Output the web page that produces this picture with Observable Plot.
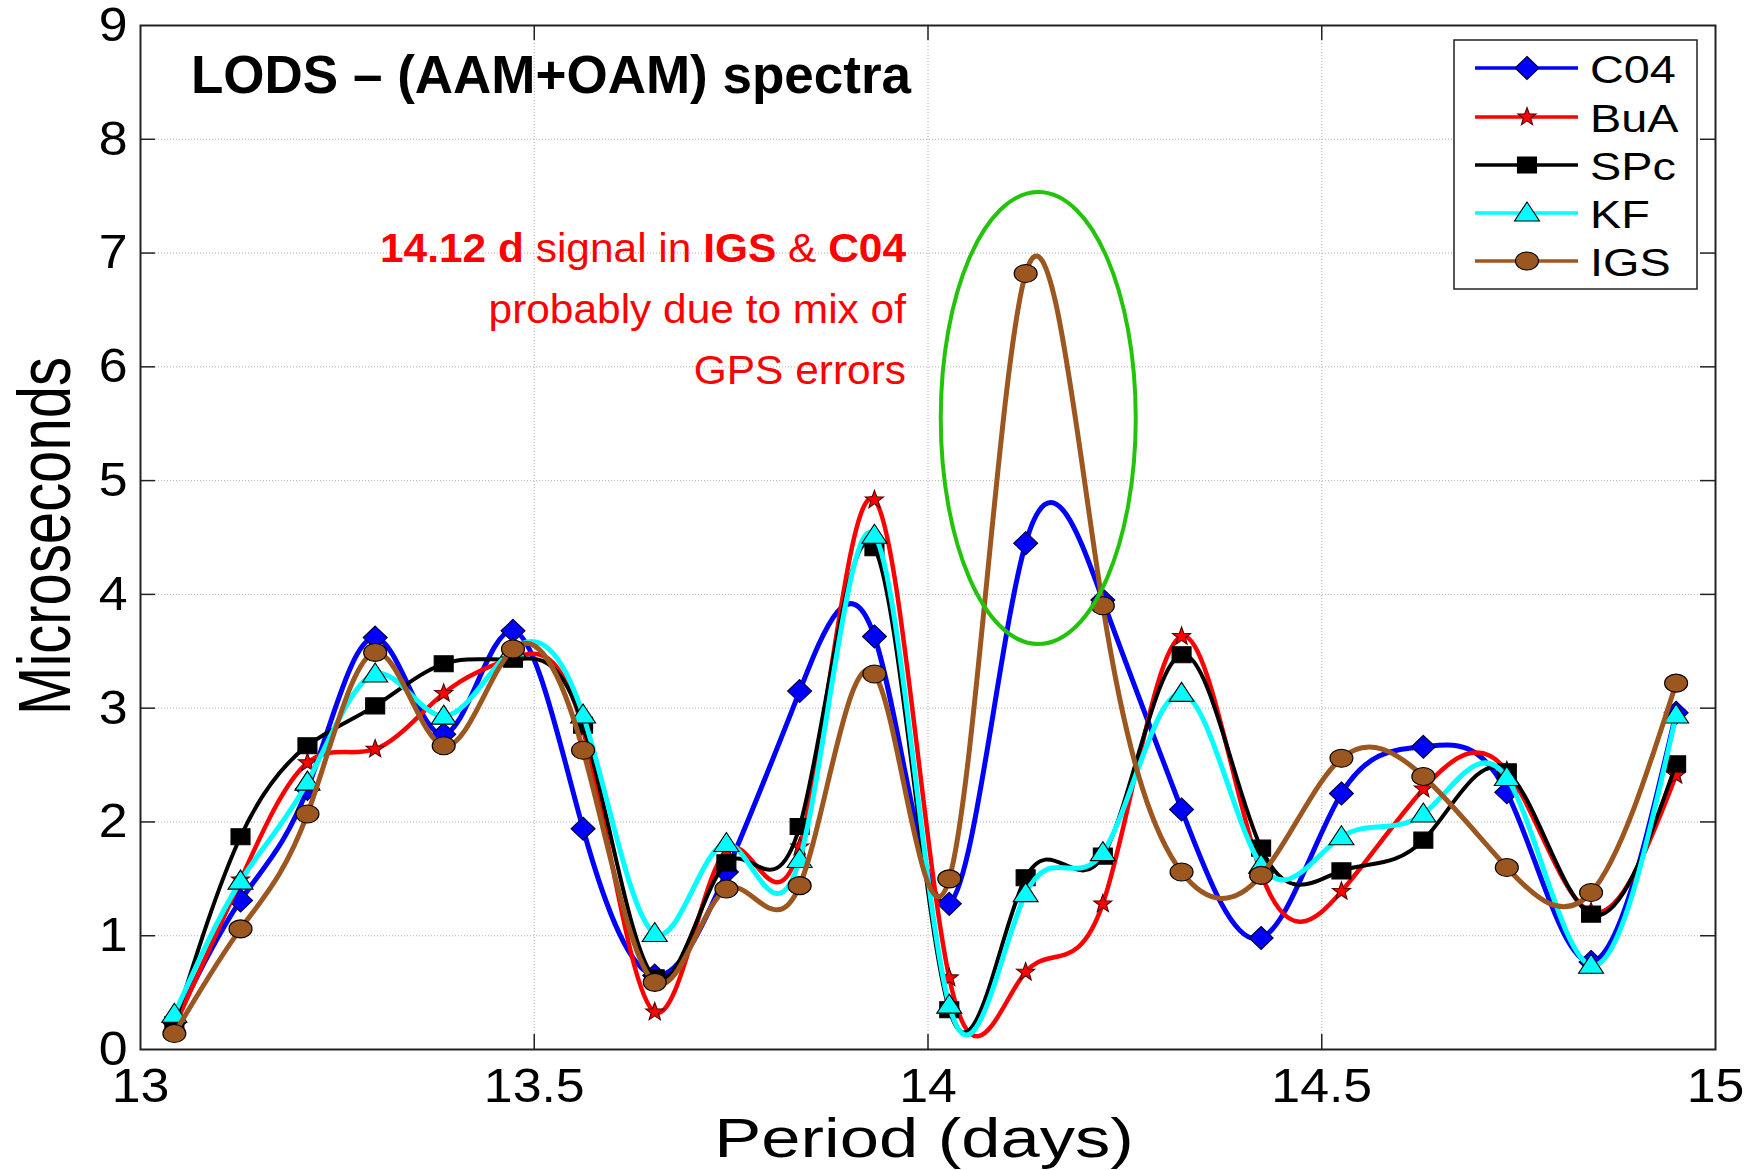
<!DOCTYPE html>
<html><head><meta charset="utf-8">
<script src="https://cdn.jsdelivr.net/npm/d3@7"></script>
<script src="https://cdn.jsdelivr.net/npm/@observablehq/plot@0.6"></script>
<style>
html,body{margin:0;padding:0;background:#fff;}
#chart svg{display:block;}
</style></head><body><div id="chart"></div>
<script>
// ---- data ----
const periods = [13.043, 13.127, 13.212, 13.298, 13.385, 13.473, 13.562, 13.653, 13.744, 13.837, 13.932,
                 14.027, 14.124, 14.222, 14.322, 14.423, 14.525, 14.629, 14.735, 14.842, 14.950];
const seriesNames = ["C04", "BuA", "SPc", "KF", "IGS"];
const c04 = [0.24, 1.31, 2.29, 3.62, 2.77, 3.68, 1.94, 0.65, 1.56, 3.15, 3.63, 1.28, 4.45, 3.95, 2.11, 0.98, 2.25, 2.66, 2.26, 0.77, 2.96];
const bua = [0.20, 1.49, 2.52, 2.64, 3.13, 3.44, 2.81, 0.33, 1.75, 1.78, 4.83, 0.63, 0.68, 1.28, 3.63, 1.55, 1.39, 2.29, 2.45, 1.21, 2.41];
const spc = [0.22, 1.87, 2.67, 3.02, 3.39, 3.43, 2.85, 0.63, 1.64, 1.96, 4.41, 0.35, 1.51, 1.70, 3.47, 1.77, 1.57, 1.84, 2.44, 1.19, 2.51];
const kf  = [0.31, 1.48, 2.35, 3.30, 2.93, 3.52, 2.94, 1.02, 1.81, 1.67, 4.52, 0.39, 1.37, 1.73, 3.13, 1.62, 1.87, 2.07, 2.39, 0.74, 2.94];
const igs = [0.14, 1.06, 2.07, 3.49, 2.67, 3.52, 2.63, 0.59, 1.41, 1.44, 3.30, 1.50, 6.82, 3.90, 1.56, 1.53, 2.56, 2.40, 1.60, 1.38, 3.22];
const xTicks = [13, 13.5, 14, 14.5, 15];
const xTickLabels = ["13", "13.5", "14", "14.5", "15"];
const yTicks = [0, 1, 2, 3, 4, 5, 6, 7, 8, 9];
const highlight = [{p: 14.140, v: 5.55}];   // centre of the green ellipse
const titleText = "LODS \u2013 (AAM+OAM) spectra";

// ---- styles ----
const colors = {C04: "#0000ff", BuA: "#ff0000", SPc: "#000000", KF: "#00ffff", IGS: "#9c5720"};
const widths = {C04: 5, BuA: 4.5, SPc: 4, KF: 5, IGS: 5};

function ellipsePath(ctx, rx, ry) {
  const k = 0.5522847498;
  ctx.moveTo(rx, 0);
  ctx.bezierCurveTo(rx, k * ry, k * rx, ry, 0, ry);
  ctx.bezierCurveTo(-k * rx, ry, -rx, k * ry, -rx, 0);
  ctx.bezierCurveTo(-rx, -k * ry, -k * rx, -ry, 0, -ry);
  ctx.bezierCurveTo(k * rx, -ry, rx, -k * ry, rx, 0);
  ctx.closePath();
}
const symEllipse = (rx, ry) => ({draw(ctx) { ellipsePath(ctx, rx, ry); }});
const symDiamond = {draw(ctx) { ctx.moveTo(0, -11.5); ctx.lineTo(12, 0); ctx.lineTo(0, 11.5); ctx.lineTo(-12, 0); ctx.closePath(); }};
const symSquare = {draw(ctx) { ctx.rect(-9.5, -8, 19, 16); }};
const symTriangle = {draw(ctx) { ctx.moveTo(0, -11); ctx.lineTo(12.5, 8); ctx.lineTo(-12.5, 8); ctx.closePath(); }};
const symStar = {draw(ctx) {
  const R = 9.5, r = 3.9;
  for (let i = 0; i < 10; i++) {
    const a = -Math.PI / 2 + i * Math.PI / 5, rad = i % 2 ? r : R;
    const x = rad * Math.cos(a), y = rad * Math.sin(a);
    if (i) ctx.lineTo(x, y); else ctx.moveTo(x, y);
  }
  ctx.closePath();
}};
const symbols = {C04: symDiamond, BuA: symStar, SPc: symSquare, KF: symTriangle, IGS: symEllipse(11.5, 9)};
const markerStroke = {C04: "#000033", BuA: "#550000", SPc: "#000", KF: "#000", IGS: "#000"};

const values = {C04: c04, BuA: bua, SPc: spc, KF: kf, IGS: igs};
const rows = name => periods.map((p, i) => ({p, v: values[name][i]}));

const tickLenX = 0.019, tickLenY = 0.132; // inward ticks (~15px)
const innerX = xTicks.slice(1, -1), innerY = yTicks.slice(1, -1);

const seriesMarks = seriesNames.flatMap(name => [
  Plot.line(rows(name), {x: "p", y: "v", curve: "natural", stroke: colors[name], strokeWidth: widths[name], clip: true}),
  Plot.dot(rows(name), {x: "p", y: "v", r: 1, symbol: symbols[name], fill: colors[name], stroke: markerStroke[name], strokeWidth: 1.1})
]);

const plot = Plot.plot({
  width: 1760, height: 1170,
  marginLeft: 140, marginRight: 45, marginTop: 25, marginBottom: 121,
  x: {domain: [13, 15]},
  y: {domain: [0, 9]},
  style: {fontFamily: "'Liberation Sans', Arial, sans-serif", fontSize: "48px", background: "#fff", color: "#000", overflow: "visible"},
  marks: [
    Plot.gridX(innerX, {stroke: "#b0b0b0", strokeOpacity: 1, strokeWidth: 1, strokeDasharray: "1,2"}),
    Plot.gridY(innerY, {stroke: "#b0b0b0", strokeOpacity: 1, strokeWidth: 1, strokeDasharray: "1,2"}),
    ...seriesMarks,
    Plot.dot(highlight, {x: "p", y: "v", r: 1, symbol: symEllipse(97.5, 226), fill: "none", stroke: "#22c40a", strokeWidth: 4}),
    Plot.ruleX(innerX, {x: d => d, y1: 0, y2: tickLenY, stroke: "#222", strokeWidth: 1.5}),
    Plot.ruleX(innerX, {x: d => d, y1: 9 - tickLenY, y2: 9, stroke: "#222", strokeWidth: 1.5}),
    Plot.ruleY(innerY, {y: d => d, x1: 13, x2: 13 + tickLenX, stroke: "#222", strokeWidth: 1.5}),
    Plot.ruleY(innerY, {y: d => d, x1: 15 - tickLenX, x2: 15, stroke: "#222", strokeWidth: 1.5}),
    Plot.frame({stroke: "#222", strokeWidth: 2}),
    Plot.axisX({anchor: "bottom", ticks: xTicks, tickFormat: d => xTickLabels[xTicks.indexOf(d)], tickSize: 0, tickPadding: 18, label: null}),
    Plot.axisY({anchor: "left", ticks: yTicks, tickFormat: d => String(d), tickSize: 0, tickPadding: 13, label: null})
  ]
});
document.getElementById("chart").appendChild(plot);

// slight horizontal stretch of tick labels, as in the original
d3.select(plot).selectAll('g[aria-label="x-axis tick label"] text, g[aria-label="y-axis tick label"] text').each(function () {
  const t = this.getAttribute("transform");
  if (t && t.includes("translate")) this.setAttribute("transform", t + " scale(1.08,1)");
});

const svg = d3.select(plot);
const font = "'Liberation Sans', Arial, sans-serif";

// axis titles
svg.append("text").attr("transform", "translate(924,1157) scale(1.26,1)")
  .attr("text-anchor", "middle").attr("font-family", font).attr("font-size", 56).attr("fill", "#000").text("Period (days)");
svg.append("text").attr("transform", "translate(70,536) rotate(-90) scale(1,1.28)")
  .attr("text-anchor", "middle").attr("font-family", font).attr("font-size", 58).attr("fill", "#000").text("Microseconds");

// title
svg.append("text").attr("x", 191).attr("y", 93).attr("text-anchor", "start").attr("font-family", font).attr("font-weight", "bold")
  .attr("font-size", 53).attr("fill", "#000").text(titleText);

// red annotation
const ann = [
  [["14.12 d", true], [" signal in ", false], ["IGS", true], [" & ", false], ["C04", true]],
  [["probably due to mix of", false]],
  [["GPS errors", false]]
];
const annY = [262, 323, 384];
ann.forEach((parts, li) => {
  const t = svg.append("text").attr("transform", `translate(906,${annY[li]}) scale(1.035,1)`)
    .attr("text-anchor", "end").attr("font-family", font).attr("font-size", 41).attr("fill", "#ff0000");
  parts.forEach(([s, b]) => t.append("tspan").attr("font-weight", b ? "bold" : "normal").text(s));
});

// legend
const lg = svg.append("g");
lg.append("rect").attr("x", 1454).attr("y", 40).attr("width", 243).attr("height", 249)
  .attr("fill", "#fff").attr("stroke", "#222").attr("stroke-width", 1.5);
const legY = [68, 117, 165, 213, 261];
seriesNames.forEach((name, i) => {
  const y = legY[i];
  lg.append("line").attr("x1", 1475).attr("x2", 1578).attr("y1", y).attr("y2", y)
    .attr("stroke", colors[name]).attr("stroke-width", 3.5);
  lg.append("path").attr("transform", `translate(1527,${y})`).attr("d", d3.symbol().type(symbols[name]).size(Math.PI)())
    .attr("fill", colors[name]).attr("stroke", markerStroke[name]).attr("stroke-width", 1.1);
  lg.append("text").attr("transform", `translate(1590,${y + 15}) scale(1.2,1)`).attr("text-anchor", "start")
    .attr("font-family", font).attr("font-size", 39).attr("fill", "#000").text(name);
});
</script></body></html>
